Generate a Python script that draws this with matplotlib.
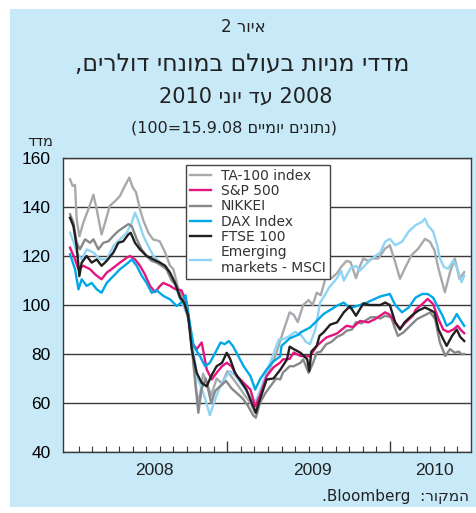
import matplotlib
matplotlib.use("Agg")
from matplotlib import pyplot as plt
from matplotlib.patches import Rectangle
from matplotlib.transforms import blended_transform_factory

# time in months since 1 Jan 2008, index (15.9.08 = 100)
ta100_t = [0.37, 0.56, 0.74, 0.86, 1.06, 1.35, 1.72, 2.1, 2.34, 2.7, 2.96, 3.3,
           3.7, 4.06, 4.36, 4.75, 5.0, 5.25, 5.54, 5.8, 6.16, 6.5, 7.0, 7.4,
           7.76, 8.0, 8.4, 8.86, 9.1, 9.4, 9.7, 9.9, 10.2, 10.5, 10.8, 11.2,
           11.6, 12.0, 12.4, 12.8, 13.3, 13.7, 14.05, 14.4, 14.8, 15.2, 15.6,
           16.1, 16.6, 16.9, 17.2, 17.6, 18.0, 18.3, 18.6, 18.9, 19.3, 19.7,
           20.1, 20.4, 20.8, 21.1, 21.5, 21.8, 22.05, 22.4, 22.7, 23.15, 23.65,
           24.0, 24.4, 24.75, 25.1, 25.6, 26.1, 26.6, 26.97, 27.3, 27.6, 28.07,
           28.45, 28.8, 29.15, 29.5]
ta100 = [151.3, 148.6, 149, 135, 128, 133.6, 139, 145, 139, 128.8, 133.6, 140.4,
         142.4, 144.5, 148, 152, 148, 146, 139, 134.3, 129.5, 126.8, 126, 121.4,
         116, 114.7, 106, 100, 96, 84, 65, 60, 72, 68, 63, 70,
         68, 73, 70, 67, 63, 60, 56, 62, 70, 75, 80,
         88.8, 97, 96, 93, 100, 102, 100, 105, 104, 112, 111,
         113, 115.5, 118, 117.5, 111, 116, 119, 118, 119, 119, 123,
         124.4, 117.5, 110.7, 114.8, 120.3, 123, 127, 125.8, 122.3, 114.8, 105.2,
         113.4, 119, 110.7, 113.4]

msci_t = [0.37, 0.62, 0.86, 1.23, 1.6, 2.1, 2.6, 3.08, 3.57, 4.06, 4.56, 4.93,
          5.17, 5.42, 5.79, 6.16, 6.53, 7.02, 7.5, 8.0, 8.4, 8.8, 9.1, 9.4, 9.8,
          10.1, 10.4, 10.7, 11.0, 11.4, 11.8, 12.2, 12.6, 13.0, 13.4, 13.9,
          14.2, 14.6, 15.0, 15.4, 15.8, 16.1, 16.6, 17.0, 17.4, 17.8, 18.1,
          18.5, 18.85, 19.2, 19.5, 20.1, 20.4, 20.6, 21.1, 21.5, 21.8, 22.3,
          22.7, 23.3, 23.65, 24.0, 24.4, 24.9, 25.4, 25.9, 26.4, 26.6, 26.8,
          27.2, 27.5, 27.7, 28.0, 28.3, 28.7, 29.0, 29.3, 29.5]
msci_em = [129.5, 126, 121.4, 118.6, 122.7, 121.4, 118.6, 118.6, 124, 126.8,
           129.5, 133.6, 137.7, 134.3, 128.2, 124, 120, 117.3, 114.6, 110.5,
           104, 99, 95, 84, 70, 66, 61, 55, 60, 66, 70, 73, 71, 68, 65, 60,
           62, 68, 74, 80, 86, 86, 87.4, 89, 88, 85, 84,
           90, 101, 104, 107, 111, 114, 110, 115, 116, 114, 117,
           119, 121.5, 125.8, 127, 124.4, 125.8, 130, 132.6, 134, 135.3, 132.6,
           130, 124.4, 119, 115.5, 114.8, 118.2, 114.8, 109.3, 112]

nikkei_t = [0.37, 0.62, 0.86, 1.1, 1.48, 1.85, 2.1, 2.46, 2.83, 3.2, 3.57, 3.94,
            4.3, 4.68, 4.93, 5.3, 5.66, 6.03, 6.4, 6.77, 7.14, 7.5, 7.88, 8.25,
            8.6, 8.9, 9.2, 9.5, 9.85, 10.1, 10.4, 10.8, 11.1, 11.5, 11.9, 12.3,
            12.7, 13.1, 13.5, 13.9, 14.1, 14.4, 14.8, 15.2, 15.6, 15.9, 16.1,
            16.6, 16.9, 17.4, 17.6, 18.0, 18.3, 18.6, 18.9, 19.3, 19.7, 20.1,
            20.5, 20.8, 21.2, 21.5, 21.9, 22.3, 22.6, 22.9, 23.3, 23.65, 24.1,
            24.35, 24.6, 25.0, 25.5, 26.0, 26.5, 27.0, 27.35, 27.7, 28.1, 28.45,
            28.8, 29.1, 29.3, 29.5]
nikkei = [137, 133.6, 125.4, 122.7, 126.8, 125.4, 126.8, 122.7, 125.4, 126,
          128.2, 130.2, 131.6, 133, 132.2, 126.8, 122.7, 120, 118, 117.3, 116,
          114.6, 110, 107.8, 103, 99, 92, 75, 56, 66, 70, 60, 65, 67, 69, 66,
          64, 62, 59, 55, 54, 60, 64, 67, 70, 69.6, 72.4,
          75, 75, 76.4, 77.8, 72.3, 76, 80.5, 81, 84, 85, 87,
          88, 89.5, 90, 93, 92.5, 94, 95, 95, 94.5, 95.6, 95,
          91, 87.4, 88.8, 91.5, 94.2, 95.6, 97, 94.2, 84.7, 79.2, 82,
          80.5, 81, 79.9, 80]

ftse_t = [0.37, 0.62, 0.86, 1.06, 1.23, 1.6, 1.97, 2.34, 2.7, 3.08, 3.57, 3.94,
          4.3, 4.68, 4.85, 5.17, 5.54, 6.03, 6.53, 7.02, 7.4, 7.76, 8.13, 8.5,
          8.8, 9.1, 9.36, 9.73, 10.1, 10.47, 10.8, 11.2, 11.6, 11.95, 12.2,
          12.56, 12.9, 13.4, 13.9, 14.1, 14.4, 14.9, 15.4, 15.9, 16.4, 16.6,
          16.9, 17.4, 17.9, 18.05, 18.2, 18.6, 18.8, 19.1, 19.6, 20.1, 20.6,
          21.05, 21.5, 22.05, 22.5, 22.9, 23.3, 23.65, 24.0, 24.4, 24.75, 25.1,
          25.6, 26.1, 26.6, 26.97, 27.3, 27.6, 27.95, 28.2, 28.6, 28.95, 29.2,
          29.5]
ftse = [135.6, 132.2, 124, 111.8, 117.3, 120, 117.3, 118.6, 116, 118, 121.4,
        125.4, 126, 128.8, 129.5, 125.4, 122.7, 120, 118.6, 117.3, 116, 113.2,
        109, 103, 101, 95.6, 82, 72.3, 68.2, 66.8, 71, 75, 76.4, 80.5, 78,
        72.3, 69.6, 65.5, 58.6, 56, 61.4, 69.6, 70, 73.5, 77.8, 83,
        82, 80.5, 77.8, 73, 81, 83.3, 87.4, 88.8, 92, 92.9, 97,
        99.5, 95.6, 100.7, 100, 100, 100, 101, 100, 92.9, 90, 93,
        95.6, 97.7, 99, 98, 97, 90, 86, 83.3, 87.4, 90, 87,
        85.3]

sp500_t = [0.37, 0.74, 0.99, 1.35, 1.85, 2.22, 2.7, 3.08, 3.57, 4.06, 4.56, 4.8,
           5.17, 5.54, 5.9, 6.28, 6.65, 7.02, 7.27, 7.76, 8.13, 8.6, 8.99, 9.36,
           9.73, 10.1, 10.47, 10.84, 11.2, 11.6, 11.95, 12.3, 12.7, 13.2, 13.7,
           14.05, 14.4, 14.9, 15.4, 15.9, 16.1, 16.6, 16.9, 17.4, 18.1, 18.6,
           19.3, 20.1, 20.8, 21.3, 21.8, 22.4, 22.9, 23.65, 24.0, 24.4, 24.75,
           25.2, 25.7, 25.9, 26.4, 26.8, 27.2, 27.6, 27.95, 28.3, 28.7, 29.0,
           29.3, 29.5]
sp500 = [123.4, 118.6, 114.6, 116, 114.6, 112.5, 110.5, 113.2, 115.2, 117.3,
         119.3, 120, 118.6, 116, 112.5, 107.8, 105.3, 107.8, 109, 107.8, 106.5,
         106, 101, 84.7, 82, 84.7, 73.7, 69.6, 72.3, 75, 76.4, 75, 71, 68.2,
         65.5, 58.6, 63, 71, 74.5, 76.5, 77.8, 78, 80.6, 79.2, 79, 83.3,
         86.7, 88.4, 91.5, 91, 93.5, 92.9, 94.2, 97, 96, 92.9, 90.5,
         93, 95.6, 98, 100.4, 102.5, 100.4, 94.2, 90, 89, 90, 91.5,
         89.5, 88.5]

dax_t = [0.37, 0.74, 0.99, 1.23, 1.6, 1.97, 2.34, 2.7, 3.08, 3.57, 4.06, 4.68,
         4.93, 5.3, 5.66, 6.03, 6.4, 6.77, 7.27, 7.76, 8.25, 8.6, 8.9, 9.25,
         9.5, 9.98, 10.35, 10.7, 11.1, 11.5, 11.8, 12.1, 12.4, 12.8, 13.2,
         13.7, 14.05, 14.4, 14.9, 15.4, 15.9, 16.0, 16.6, 17.3, 17.4, 18.1,
         18.6, 19.1, 19.6, 20.1, 20.6, 21.05, 21.8, 22.3, 23.3, 24.0, 24.4,
         24.9, 25.4, 25.9, 26.4, 26.8, 27.2, 27.5, 27.9, 28.2, 28.6, 28.95,
         29.2, 29.5]
dax = [120.7, 114.6, 106.4, 110.5, 107.8, 109, 106.4, 105, 109, 111.8, 114.6,
       117.3, 118.6, 116, 112, 109, 105, 106, 103.7, 102.3, 99.6, 101, 104,
       91.5, 83.3, 79, 75, 76.4, 80.5, 84.7, 84, 85.3, 83.3, 79.2, 75,
       71, 65.5, 69.6, 73.7, 77, 79, 83.3, 86.4, 88, 88.8, 90.8,
       93.5, 96.3, 98, 99.7, 101, 98.7, 100, 101, 103.5, 104.5, 100,
       97, 99, 103, 104.5, 104.5, 103, 99.7, 95.6, 91.5, 93, 96.3,
       94, 91.5]

years = ["2008", "2009", "2010"]
year_pos = [6.6, 18.3, 27.3]

BG = "#c8e9f8"

fig = plt.figure(figsize=(4.77, 5.13), dpi=100)
fig.patch.set_facecolor("white")
fig.add_artist(Rectangle((10 / 477, 6 / 513), 467 / 477, 498 / 513,
                         transform=fig.transFigure, facecolor=BG,
                         edgecolor="none", zorder=-10))

ax = fig.add_axes([63 / 477, 1 - 452 / 513, 408 / 477, 294 / 513])
ax.set_facecolor("white")

lw = 1.7
l_ta, = ax.plot(ta100_t, ta100, color="#a7a9ac", lw=lw)
l_em, = ax.plot(msci_t, msci_em, color="#8fd5f3", lw=lw)
l_nk, = ax.plot(nikkei_t, nikkei, color="#86888a", lw=lw)
l_sp, = ax.plot(sp500_t, sp500, color="#e4157f", lw=lw)
l_dax, = ax.plot(dax_t, dax, color="#00a8e6", lw=lw)
l_ft, = ax.plot(ftse_t, ftse, color="#231f20", lw=lw)

ax.set_xlim(-0.15, 30.0)
ax.set_ylim(40, 160)
ax.set_yticks(range(40, 161, 20))
ax.yaxis.grid(True, color="#3a3a3a", lw=1)
ax.set_axisbelow(True)
ax.tick_params(axis="y", length=0, pad=9, labelsize=12.5)
for lab in ax.get_yticklabels():
    lab.set_family("Liberation Sans")

ax.set_xticks([12, 24])
ax.set_xticks([m for m in range(1, 30) if m not in (12, 24)], minor=True)
ax.tick_params(axis="x", which="major", direction="in", length=8, width=1,
               color="#3a3a3a", labelbottom=False)
ax.tick_params(axis="x", which="minor", direction="in", length=4, width=0.8,
               color="#3a3a3a")
for s in ax.spines.values():
    s.set_color("#3a3a3a")
    s.set_linewidth(1)

tr = blended_transform_factory(ax.transData, ax.transAxes)
for y, p in zip(years, year_pos):
    ax.text(p, -0.062, y, transform=tr, ha="center", va="center",
            fontsize=12.5, family="Liberation Sans", color="#222")

leg = ax.legend([l_ta, l_sp, l_nk, l_dax, l_ft, l_em],
                ["TA-100 index", "S&P 500", "NIKKEI", "DAX Index", "FTSE 100",
                 "Emerging\nmarkets - MSCI"],
                loc="upper left", bbox_to_anchor=(186 / 477, 1 - 165 / 513),
                bbox_transform=fig.transFigure, frameon=True, fancybox=False,
                borderaxespad=0, borderpad=0.3, handlelength=1.5,
                handletextpad=0.7, labelspacing=0.08,
                prop={"family": "DejaVu Sans", "size": 10})
leg.get_frame().set_edgecolor("#444")
leg.get_frame().set_linewidth(1)
leg.get_frame().set_alpha(1)
for t in leg.get_texts():
    t.set_color("#333")

# Hebrew strings are written in visual (left-to-right) order
heb = dict(family="DejaVu Sans", color="#222", ha="center", va="center")
fig.text(243 / 477, 1 - 27 / 513, "2 " + "איור"[::-1], fontsize=12, **heb)
fig.text(242 / 477, 1 - 64 / 513, "," + "מדדי מניות בעולם במונחי דולרים"[::-1],
         fontsize=17, **heb)
fig.text(246 / 477, 1 - 97 / 513, "2010 " + "עד יוני"[::-1] + " 2008",
         fontsize=15, **heb)
fig.text(234 / 477, 1 - 128 / 513, "(100=15.9.08 " + "נתונים יומיים"[::-1] + ")",
         fontsize=11.5, **heb)
fig.text(40 / 477, 1 - 141 / 513, "מדד"[::-1], fontsize=10.5, **heb)
fig.text(469 / 477, 1 - 496 / 513, ".Bloomberg  :" + "המקור"[::-1],
         fontsize=11, family="DejaVu Sans", color="#222", ha="right",
         va="center")

fig.savefig("out.png", dpi=100)
